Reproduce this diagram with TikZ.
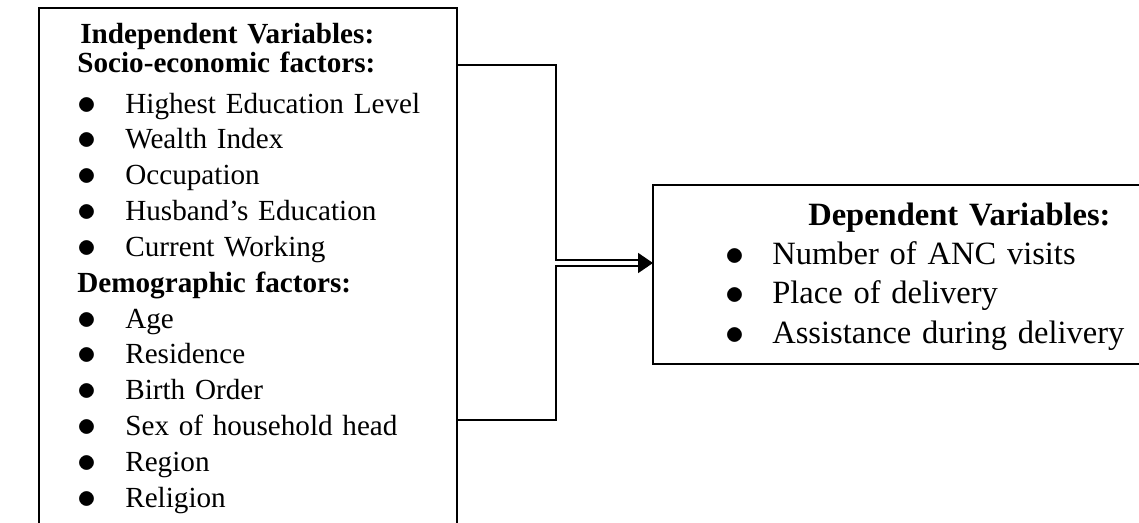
\documentclass[tikz,border=0pt]{standalone}
\usepackage{fontspec}
\usepackage{graphicx}
\setmainfont{Liberation Serif}
\usetikzlibrary{arrows.meta, calc}

\newcommand{\bigdot}{\raisebox{-0.02cm}{\scalebox{1.25}{$\bullet$}}}
\newcommand{\bul}{\makebox[0.96cm][l]{\bigdot}}
\newcommand{\dbul}{\makebox[0.94cm][l]{\bigdot}}

\begin{document}
\begin{tikzpicture}[x=0.02cm, y=-0.02cm,
    frame/.style={rectangle, draw, line width=1.1pt, outer sep=0pt, anchor=north west},
    list/.style={align=left, anchor=base west, inner sep=0pt},
    link/.style={line width=1.1pt}]
    \clip (0,0) rectangle (1139,522);
    % boxes
    \node[frame, minimum width=8.36cm, minimum height=10.8cm](indep) at (39,8){};
    \node[frame, minimum width=10cm, minimum height=3.58cm](dep) at (653,185){};
    % contents
    \node[list, text width=7.5cm, font=\fontsize{16.6}{20.4}\selectfont](indeplist) at (77,43){%
      \hspace*{0.06cm}\textbf{Independent Variables:}\\[-0.136cm]
      \textbf{Socio-economic factors:}\\[0.104cm]
      \bul Highest Education Level\\
      \bul Wealth Index\\
      \bul Occupation\\
      \bul Husband’s Education\\
      \bul Current Working\\
      \textbf{Demographic factors:}\\
      \bul Age\\
      \bul Residence\\
      \bul Birth Order\\
      \bul Sex of household head\\
      \bul Region\\
      \bul Religion};
    \node[list, text width=8.2cm, font=\fontsize{18.5}{22.4}\selectfont](deplist) at (725,225){%
      \hspace*{1.66cm}\textbf{Dependent Variables:}\\
      \dbul Number of ANC visits\\
      \dbul Place of delivery\\
      \dbul Assistance during delivery};
    % connector
    \coordinate (upper) at (556,65);
    \coordinate (lower) at (556,420);
    \coordinate (hub) at (556,263);
    \coordinate (tip) at (dep.west |- hub);
    \draw[link](indep.east |- upper) -- (upper) -- ($(hub)+(0,-2.7)$) -- ($(tip)+(-14,-2.7)$);
    \draw[link](indep.east |- lower) -- (lower) -- ($(hub)+(0,2.7)$) -- ($(tip)+(-14,2.7)$);
    \draw[link, -{Triangle[length=0.3cm, width=0.4cm]}]($(tip)+(-15,0)$) -- (tip);
  \end{tikzpicture}
\end{document}
